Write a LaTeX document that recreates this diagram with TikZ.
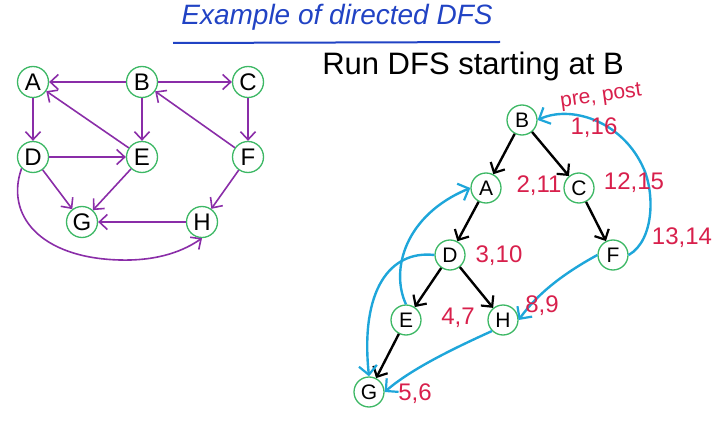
\documentclass[tikz,border=0pt]{standalone}
\usepackage{fontspec}
\setmainfont{Liberation Sans}
\usetikzlibrary{arrows.meta}
\definecolor{vpurple}{HTML}{8A2DA8}
\definecolor{vgreen}{HTML}{3DB865}
\definecolor{vblue}{HTML}{1EA6DA}
\definecolor{vred}{HTML}{D8204C}
\definecolor{vtitle}{HTML}{2143C4}
\tikzset{
  vnode/.style={circle,draw=vgreen,line width=1.3pt,minimum size=31pt,inner sep=0pt,fill=white,font=\fontsize{24}{24}\selectfont},
  rnode/.style={vnode,minimum size=30pt,font=\fontsize{21}{21}\selectfont},
  pedge/.style={draw=vpurple,line width=1.6pt,-{Straight Barb[length=8pt,width=15pt,line width=1.6pt]}},
  tedge/.style={draw=black,line width=2.4pt,-{Straight Barb[length=8pt,width=16pt,line width=2.2pt]}},
  bedge/.style={draw=vblue,line width=2.4pt,-{Straight Barb[length=9pt,width=18pt,line width=2.2pt]}},
  lbl/.style={text=vred,font=\fontsize{24}{24}\selectfont,inner sep=0pt},
}
\begin{document}
\begin{tikzpicture}[x=1pt,y=-1pt]
\useasboundingbox (0,0) rectangle (725,422);
% title
\node[text=vtitle,font=\itshape\fontsize{28}{28}\selectfont] (title) at (337,17) {Example of directed DFS};
\draw[vtitle,line width=2pt] (173,43) -- (500,42);
\node[font=\fontsize{31}{31}\selectfont,inner sep=0pt] (run) at (473,66) {Run DFS starting at B};
% left graph
\node[vnode] (A) at (33,82) {A};
\node[vnode] (B) at (142,82) {B};
\node[vnode] (C) at (248,82) {C};
\node[vnode] (D) at (33,157) {D};
\node[vnode] (E) at (142,157) {E};
\node[vnode] (F) at (248,157) {F};
\node[vnode] (G) at (82,222) {G};
\node[vnode] (H) at (202,222) {H};
\draw[pedge] (B) -- (A);
\draw[pedge] (B) -- (C);
\draw[pedge] (B) -- (E);
\draw[pedge] (A) -- (D);
\draw[pedge] (E) -- (A);
\draw[pedge] (F) -- (B);
\draw[pedge] (C) -- (F);
\draw[pedge] (D) -- (E);
\draw[pedge] (D) -- (G);
\draw[pedge] (E) -- (G);
\draw[pedge] (F) -- (H);
\draw[pedge] (H) -- (G);
\draw[pedge] (D.south west) .. controls (5,215) and (40,258) .. (120,260) .. controls (160,261) and (185,250) .. (H.south);
% right graph
\node[rnode] (rB) at (522,120) {B};
\node[rnode] (rA) at (486,188) {A};
\node[rnode] (rC) at (579,188) {C};
\node[rnode] (rD) at (450,255) {D};
\node[rnode] (rF) at (613,255) {F};
\node[rnode] (rE) at (406,320) {E};
\node[rnode] (rH) at (503,320) {H};
\node[rnode] (rG) at (369,392) {G};
\draw[tedge] (rB) -- (rA);
\draw[tedge] (rB) -- (rC);
\draw[tedge] (rA) -- (rD);
\draw[tedge] (rC) -- (rF);
\draw[tedge] (rD) -- (rE);
\draw[tedge] (rD) -- (rH);
\draw[tedge] (rE) -- (rG);
\draw[bedge] (rF.east) .. controls (655,240) and (655,190) .. (642,165) .. controls (620,120) and (570,105) .. (rB.east);
\draw[bedge] (rE.north) .. controls (390,270) and (405,215) .. (rA.west);
\draw[bedge] (rD.west) .. controls (390,250) and (360,290) .. (rG.north);
\draw[bedge] (rF.west) .. controls (570,270) and (540,290) .. (rH.east);
\draw[bedge] (rH.south west) .. controls (450,350) and (410,370) .. (rG.east);
% labels
\node[lbl,rotate=8,font=\fontsize{21}{21}\selectfont] (pp) at (601,97) {pre, post};
\node[lbl] (l1) at (594,128) {1,16};
\node[lbl] (l2) at (539,186) {2,11};
\node[lbl] (l3) at (634,183) {12,15};
\node[lbl] (l4) at (682,238) {13,14};
\node[lbl] (l5) at (499,256) {3,10};
\node[lbl] (l6) at (458,318) {4,7};
\node[lbl] (l7) at (542,306) {8,9};
\node[lbl] (l8) at (415,394) {5,6};
\end{tikzpicture}
\end{document}
